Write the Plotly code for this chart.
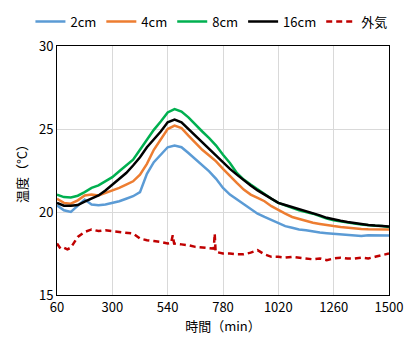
import plotly.graph_objects as go

time_min = list(range(60, 1501, 30))

t_2cm = [20.4, 20.1, 20.0, 20.35, 20.75, 20.45, 20.4, 20.45, 20.55, 20.65,
         20.8, 20.95, 21.2, 22.3, 23.0, 23.45, 23.9, 24.0, 23.9, 23.55,
         23.2, 22.85, 22.45, 22.0, 21.45, 21.05, 20.75, 20.45, 20.15, 19.9,
         19.7, 19.5, 19.3, 19.15, 19.05, 18.95, 18.9, 18.82, 18.76, 18.72,
         18.68, 18.65, 18.62, 18.6, 18.55, 18.6, 18.6, 18.6, 18.58]

t_4cm = [20.8, 20.55, 20.5, 20.7, 21.0, 21.05, 21.0, 21.15, 21.3, 21.45,
         21.65, 21.85, 22.25, 22.9, 23.75, 24.4, 25.0, 25.2, 25.05, 24.6,
         24.15, 23.75, 23.4, 23.05, 22.6, 22.15, 21.75, 21.35, 21.05, 20.85,
         20.65, 20.35, 20.1, 19.9, 19.7, 19.58, 19.45, 19.35, 19.28, 19.2,
         19.15, 19.1, 19.05, 19.02, 18.98, 18.96, 18.95, 18.95, 18.95]

t_8cm = [21.05, 20.9, 20.88, 20.98, 21.2, 21.45, 21.6, 21.85, 22.1, 22.45,
         22.8, 23.15, 23.75, 24.35, 24.95, 25.45, 26.0, 26.2, 26.05, 25.7,
         25.25, 24.85, 24.45, 24.0, 23.45, 22.95, 22.35, 21.95, 21.65, 21.35,
         21.05, 20.8, 20.55, 20.38, 20.25, 20.1, 20.0, 19.9, 19.75, 19.6,
         19.5, 19.42, 19.35, 19.3, 19.25, 19.2, 19.17, 19.15, 19.1]

t_16cm = [20.55, 20.38, 20.38, 20.42, 20.62, 20.8, 21.0, 21.3, 21.65, 22.0,
          22.35, 22.8, 23.3, 23.9, 24.35, 24.85, 25.4, 25.56, 25.4, 25.0,
          24.55, 24.15, 23.8, 23.4, 23.0, 22.6, 22.25, 21.9, 21.6, 21.3,
          21.05, 20.8, 20.55, 20.42, 20.3, 20.15, 20.05, 19.95, 19.8, 19.65,
          19.55, 19.47, 19.4, 19.33, 19.27, 19.22, 19.18, 19.15, 19.12]

time_out = [60, 75, 90, 105, 120, 150, 180, 210, 240, 270, 300, 330, 360, 390,
            420, 450, 480, 510, 540, 555, 562, 568, 600, 630, 660, 690, 720,
            740, 744, 748, 780, 810, 840, 870, 900, 930, 960, 990, 1020, 1050,
            1080, 1110, 1140, 1170, 1200, 1230, 1260, 1290, 1320, 1350, 1380,
            1410, 1440, 1470, 1500]
t_out = [18.1, 17.8, 17.85, 17.75, 17.85, 18.5, 18.8, 18.95, 18.85, 18.9,
         18.85, 18.8, 18.75, 18.7, 18.4, 18.3, 18.25, 18.2, 18.1, 18.15,
         18.6, 18.1, 18.05, 18.0, 17.9, 17.85, 17.8, 17.8, 18.7, 17.6,
         17.5, 17.5, 17.45, 17.45, 17.55, 17.7, 17.45, 17.3, 17.3, 17.25,
         17.3, 17.25, 17.2, 17.15, 17.2, 17.1, 17.2, 17.25, 17.2, 17.2,
         17.25, 17.2, 17.3, 17.4, 17.5]

x_ticks = [60, 300, 540, 780, 1020, 1260, 1500]
y_ticks = [15, 20, 25, 30]

FONT = "Noto Sans CJK JP"

fig = go.Figure()
series = [
    ("2cm", t_2cm, "#5B9BD5"),
    ("4cm", t_4cm, "#ED7D31"),
    ("8cm", t_8cm, "#00B050"),
    ("16cm", t_16cm, "#000000"),
]
for name, ys, col in series:
    fig.add_trace(go.Scatter(x=time_min, y=ys, name=name, mode="lines",
                             line=dict(color=col, width=2.5)))
fig.add_trace(go.Scatter(x=time_out, y=t_out, name="外気", mode="lines",
                         line=dict(color="#C00000", width=2.5, dash="6px,4px")))

fig.update_layout(
    width=411, height=344,
    margin=dict(l=57, r=22, t=46, b=49, autoexpand=False),
    paper_bgcolor="white", plot_bgcolor="white",
    font=dict(family=FONT, size=13, color="#000000"),
    showlegend=True,
    legend=dict(orientation="h", x=-0.08, xanchor="left",
                y=1.038, yanchor="bottom",
                font=dict(size=13), itemwidth=30, tracegroupgap=0,
                bgcolor="rgba(0,0,0,0)"),
)
fig.update_xaxes(range=[60, 1500], tickvals=x_ticks, ticktext=[str(v) for v in x_ticks],
                 showgrid=True, gridcolor="#D9D9D9", gridwidth=1,
                 showline=True, linecolor="#000000", linewidth=1, mirror=True,
                 ticks="", zeroline=False,
                 title=dict(text="時間（min）", font=dict(size=13), standoff=6))
fig.update_yaxes(range=[15, 30], tickvals=y_ticks,
                 showgrid=True, gridcolor="#D9D9D9", gridwidth=1,
                 showline=True, linecolor="#000000", linewidth=1, mirror=True,
                 ticks="", zeroline=False,
                 title=dict(text="温度（°C）", font=dict(size=13), standoff=8))

fig.write_html("out.html", config={"displayModeBar": False},
               post_script="document.body.style.margin='0';")
